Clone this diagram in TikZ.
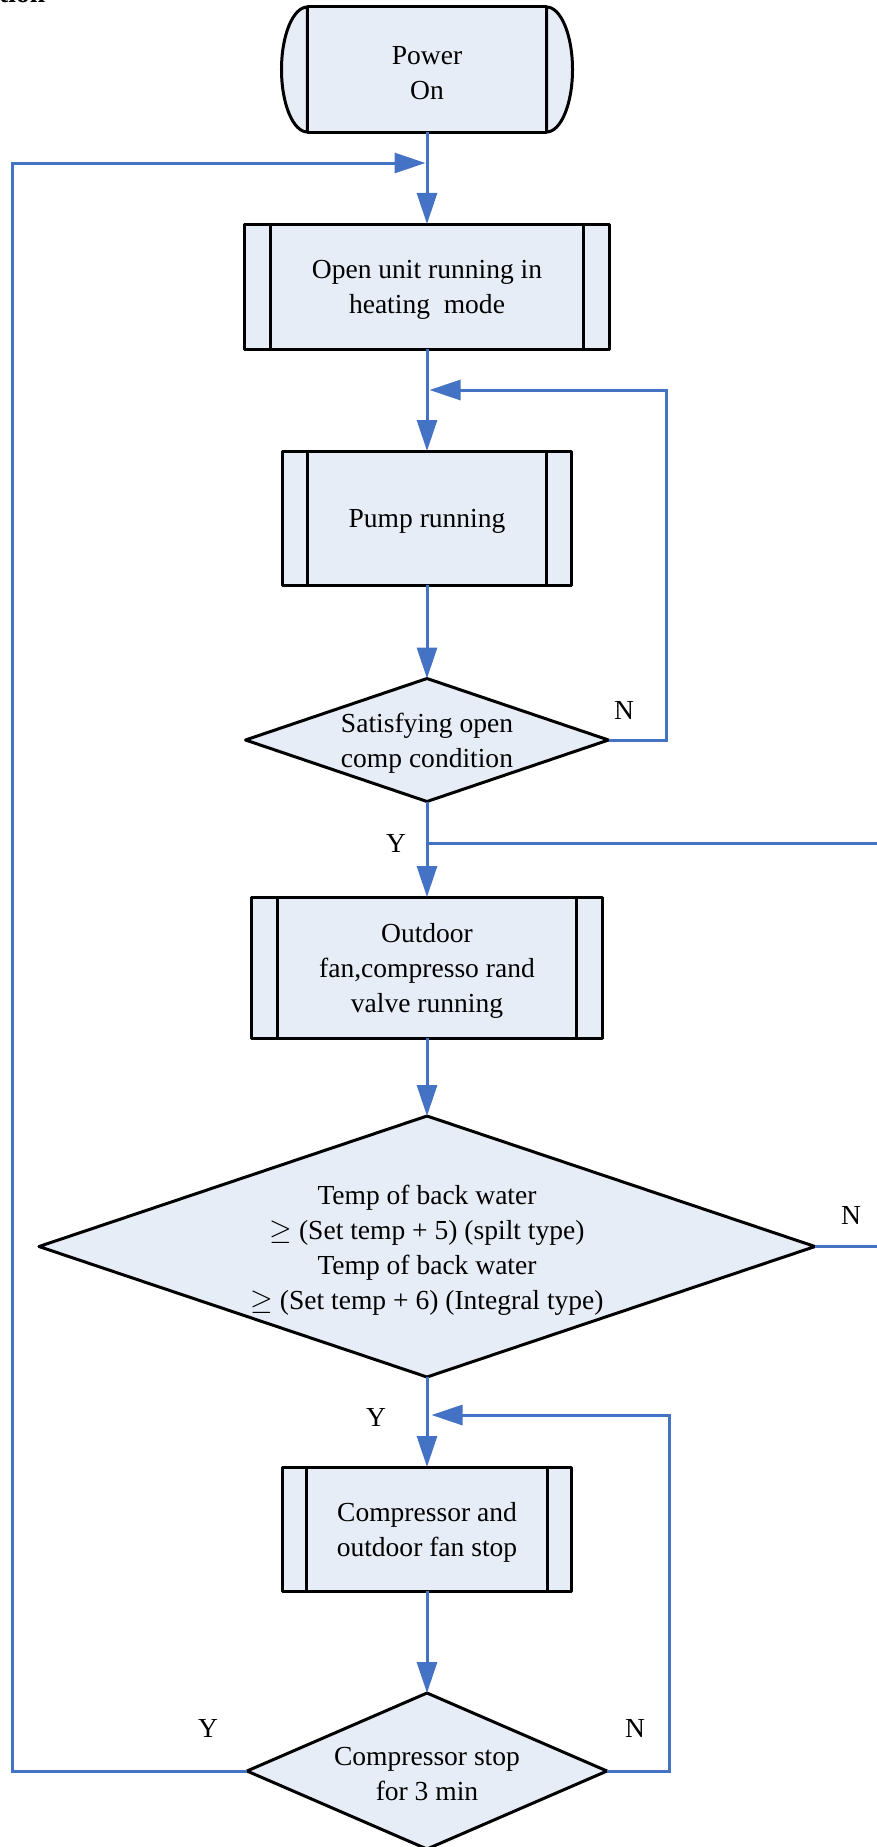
\documentclass[tikz,border=0pt]{standalone}
\usepackage{fontspec}
\setmainfont{Liberation Serif}
\usetikzlibrary{shapes.geometric,arrows.meta}
\definecolor{flowblue}{RGB}{68,114,196}
\definecolor{boxfill}{RGB}{231,237,247}
\begin{document}
\begin{tikzpicture}[x=0.03cm,y=-0.03cm,
  shapeline/.style={draw=black, line width=0.09cm, fill=boxfill, line join=round, outer sep=0pt},
  txt/.style={font=\fontsize{23.5pt}{29.9pt}\selectfont, align=center, inner sep=0pt},
  bodytxt/.style={txt, yshift=-0.1cm},
  sidebars/.style={path picture={
    \draw[line width=0.09cm]
      ([xshift=#1]path picture bounding box.north west) -- ([xshift=#1]path picture bounding box.south west)
      ([xshift=-#1]path picture bounding box.north east) -- ([xshift=-#1]path picture bounding box.south east);}},
  procbox/.style={shapeline, rectangle, txt},
  decision/.style={shapeline, diamond, inner sep=0pt},
  flow/.style={draw=flowblue, line width=0.09cm},
  flowarrow/.style={flow, -{Triangle[length=0.93cm, width=0.6cm]}},
  lbl/.style={txt}]

\useasboundingbox (0,0) rectangle (877,1847);
\clip (0,0) rectangle (877,1847);

% heading fragment
\node[font=\fontsize{23.5pt}{29.9pt}\selectfont\bfseries, anchor=base west, inner sep=0pt] (hdr) at (-1,2.5) {tion};

% start terminal
\node[procbox, minimum width=7.17cm, minimum height=3.75cm] (power) at (427,69.5) {};
\filldraw[shapeline] (power.north west) arc[start angle=90, end angle=270, x radius=0.78cm, y radius=1.875cm] -- cycle;
\filldraw[shapeline] (power.north east) arc[start angle=90, end angle=-90, x radius=0.78cm, y radius=1.875cm] -- cycle;
\node[bodytxt] (powert) at (power) {Power\\On};

% process boxes
\node[procbox, sidebars=0.78cm, minimum width=10.95cm, minimum height=3.75cm] (open) at (427,286.5) {};
\node[bodytxt] (opent) at (open) {Open unit running in\\heating\ \ mode};
\node[procbox, sidebars=0.75cm, minimum width=8.67cm, minimum height=4.02cm] (pump) at (427,518) {};
\node[bodytxt] (pumpt) at (pump) {Pump running};
\node[procbox, sidebars=0.78cm, minimum width=10.53cm, minimum height=4.23cm] (outdoor) at (427,967.5) {};
\node[bodytxt] (outdoort) at (outdoor) {Outdoor\\fan,compresso rand\\valve running};
\node[procbox, sidebars=0.72cm, minimum width=8.64cm, minimum height=3.72cm] (comp) at (427,1529) {};
\node[bodytxt] (compt) at (comp) {Compressor and\\outdoor fan stop};

% decisions
\node[decision, minimum width=10.89cm, minimum height=3.69cm] (d1) at (427,740) {};
\node[bodytxt] (d1t) at (d1) {Satisfying open\\comp condition};
\node[decision, minimum width=23.28cm, minimum height=7.83cm] (d2) at (427,1246.5) {};
\node[bodytxt] (d2t) at (d2) {Temp of back water\\$\geq$ (Set temp + 5) (spilt type)\\Temp of back water\\$\geq$ (Set temp + 6) (Integral type)};
\node[decision, minimum width=10.8cm, minimum height=4.68cm] (d3) at (427,1771) {};
\node[bodytxt] (d3t) at (d3) {Compressor stop\\for 3 min};

% junction points
\coordinate (jtop) at (425.5,163);
\coordinate (lx) at (12,163);
\coordinate (j1) at (429.5,390);
\coordinate (r1) at (666,390);
\coordinate (y1) at (427,843);
\coordinate (e1) at (880,843);
\coordinate (e2) at (880,1246.5);
\coordinate (j2) at (431.5,1415);
\coordinate (r2) at (669,1415);

% main flow
\draw[flowarrow] (power.south) -- (open.north);
\draw[flowarrow] (open.south) -- (pump.north);
\draw[flowarrow] (pump.south) -- (d1.north);
\draw[flowarrow] (d1.south) -- (outdoor.north);
\draw[flowarrow] (outdoor.south) -- (d2.north);
\draw[flowarrow] (d2.south) -- (comp.north);
\draw[flowarrow] (comp.south) -- (d3.north);

% loops and branches
\draw[flowarrow] (d1.east) -| (r1) -- (j1);
\draw[flow] (y1) -- (e1);
\draw[flow] (d2.east) -- (e2);
\draw[flowarrow] (d3.east) -| (r2) -- (j2);
\draw[flowarrow] (d3.west) -| (lx) -- (jtop);

% branch labels
\node[lbl] (n1) at (624,710) {N};
\node[lbl] (y1l) at (396,843) {Y};
\node[lbl] (n2) at (851,1215) {N};
\node[lbl] (y2l) at (376,1417) {Y};
\node[lbl] (y3l) at (208,1728) {Y};
\node[lbl] (n3) at (635,1728) {N};
\end{tikzpicture}
\end{document}
